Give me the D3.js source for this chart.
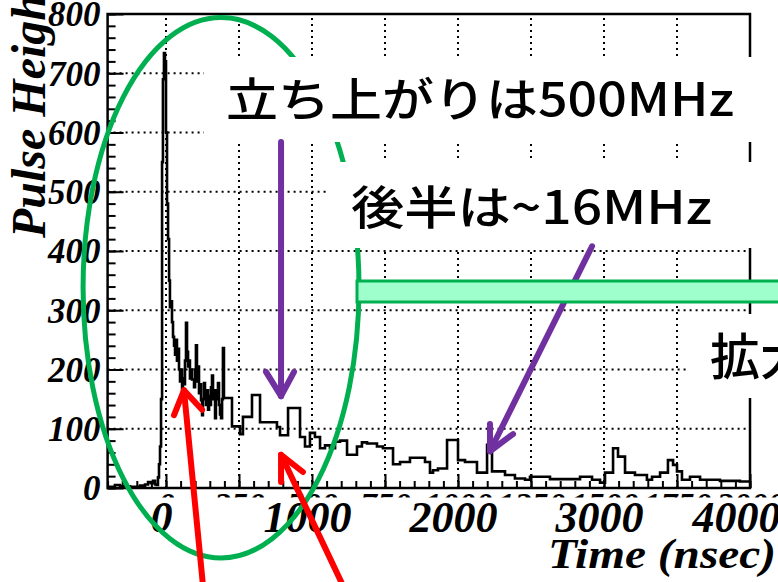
<!DOCTYPE html>
<html>
<head>
<meta charset="utf-8">
<script src="https://cdn.jsdelivr.net/npm/d3@7"></script>
<style>
  html, body { margin: 0; padding: 0; background: #fff; }
  svg { display: block; }
</style>
</head>
<body>
<svg width="778" height="582"></svg>
<script>
///////////////////////////////////////////////////////
// DATA (time in nsec on the big axis, pulse height)
///////////////////////////////////////////////////////
const timeNs = [
  -400, -350, -315, -247, -178, -144, -123, -103, -89, -75,
  -62, -55, -48, -41, -34, -27, -21, -14, -7, 0,
  7, 14, 21, 27, 34, 41, 48, 55, 62, 68,
  75, 82, 89, 96, 103, 110, 116, 123, 130, 137,
  144, 151, 158, 164, 171, 178, 185, 192, 199, 205,
  212, 219, 226, 233, 240, 247, 253, 260, 267, 274,
  281, 288, 295, 301, 308, 315, 322, 329, 336, 342,
  349, 356, 363, 370, 377, 384, 390, 397, 452, 507,
  527, 589, 644, 760, 781, 836, 918, 952, 986, 1020,
  1055, 1089, 1123, 1158, 1192, 1240, 1308, 1342, 1377, 1445,
  1486, 1555, 1603, 1671, 1774, 1808, 1829, 1863, 1925, 2000,
  2048, 2130, 2199, 2233, 2322, 2390, 2459, 2493, 2630, 2836,
  2918, 2973, 3007, 3062, 3096, 3144, 3212, 3294, 3329, 3384,
  3438, 3473, 3500, 3534, 3589, 3658, 3794, 3931
];
const pulseHeight = [
  2, 5, 3, 2, 4, 6, 10, 8, 12, 6,
  5, 18, 40, 70, 150, 550, 690, 734, 720, 600,
  480, 420, 350, 305, 315, 280, 255, 240, 225, 250,
  215, 235, 200, 180, 200, 165, 185, 175, 215, 279,
  230, 205, 215, 185, 200, 183, 183, 170, 200, 241,
  180, 205, 160, 175, 148, 123, 150, 177, 150, 140,
  165, 132, 155, 140, 170, 190, 150, 165, 118, 150,
  165, 177, 140, 124, 118, 150, 236, 152, 104, 91,
  120, 157, 111, 103, 89, 135, 86, 70, 93, 86,
  67, 72, 67, 78, 80, 56, 70, 77, 75, 70,
  67, 40, 44, 51, 44, 26, 30, 33, 81, 47,
  44, 26, 73, 28, 22, 16, 14, 19, 15, 19,
  14, 9, 26, 67, 53, 26, 22, 14, 19, 26,
  47, 39, 28, 14, 19, 14, 12, 11
];
const timeMax = 4000;

// tick values
const yMajor = [0, 100, 200, 300, 400, 500, 600, 700, 800];
const yMinor = d3.range(0, 801, 20);
const outerTicks = [0, 1000, 2000, 3000, 4000];
const innerLabels = [0, 250, 500, 750, 1000, 1250, 1500, 1750, 2000]; // old axis, half scale
const xMinor = d3.range(-400, 4001, 100);

// annotations (data coordinates)
const purpleArrows = [
  { tail: [788, 584], tip: [788, 155], wings: [[685, 196], [877, 196]] },
  { tail: [2918, 408], tip: [2219, 62], wings: [[2219, 108], [2377, 91]] }
];
const redArrows = [
  { tail: [253, -164], tip: [123, 165], wings: [[55, 123], [247, 132]] },
  { tail: [1226, -172], tip: [788, 56], wings: [[788, 10], [938, 27]] }
];
const ring = { t: 377, v: 338, dt: 945, dv: 456 };

// call-out boxes (page layout)
const callouts = [
  { text: "立ち上がりは500MHz", x: 204, y: 57, w: 580, h: 85, tx: 226, ty: 116, size: 46, len: 508 },
  { text: "後半は~16MHz", x: 327, y: 162, w: 460, h: 86, tx: 351, ty: 224, size: 46, len: 361 },
  { text: "拡大", x: 688, y: 314, w: 100, h: 84, tx: 710, ty: 375, size: 50, len: null }
];

///////////////////////////////////////////////////////
// SETUP
///////////////////////////////////////////////////////
const frame = { left: 107.6, right: 750, top: 14, bottom: 488 };
const serif = "'Liberation Serif', 'Times New Roman', serif";
const jp = "'Noto Sans CJK JP', sans-serif";

const x = d3.scaleLinear().domain([-400, timeMax]).range([frame.left, frame.right]);
const y = d3.scaleLinear().domain([0, 800]).range([frame.bottom, frame.top]);

const svg = d3.select("svg");

function serifText(sel, size) {
  sel.attr("font-family", serif)
    .attr("font-weight", "bold")
    .attr("font-style", "italic")
    .attr("font-size", size)
    .attr("fill", "#000");
}

// grid (dotted)
const grid = svg.append("g")
  .attr("stroke", "#000")
  .attr("stroke-width", 2)
  .attr("stroke-dasharray", "2,4");
grid.selectAll(".vg")
  .data(innerLabels.slice(0, -1))
  .join("line")
  .attr("x1", d => x(d * 2)).attr("x2", d => x(d * 2))
  .attr("y1", frame.bottom).attr("y2", frame.top);
grid.selectAll(".hg")
  .data(yMajor.slice(1, -1))
  .join("line")
  .attr("x1", frame.left).attr("x2", frame.right)
  .attr("y1", d => y(d)).attr("y2", d => y(d));

// histogram
const pts = timeNs.map((t, i) => [t, pulseHeight[i]]);
pts.push([timeMax, pulseHeight[pulseHeight.length - 1]]);
const line = d3.line()
  .x(d => x(d[0]))
  .y(d => y(d[1]))
  .curve(d3.curveStepAfter);
svg.append("path")
  .attr("d", line(pts))
  .attr("fill", "none")
  .attr("stroke", "#000")
  .attr("stroke-width", 2.6)
  .attr("stroke-linejoin", "miter");

// y axis: minor + major ticks inside
svg.append("g")
  .attr("transform", "translate(" + frame.left + ",0)")
  .call(d3.axisLeft(y).tickValues(yMinor).tickSize(-8).tickFormat(""))
  .call(g => g.select(".domain").remove())
  .selectAll("line").attr("stroke-width", 2);
const yAxisG = svg.append("g")
  .attr("transform", "translate(" + frame.left + ",0)")
  .call(d3.axisLeft(y).tickValues(yMajor).tickSize(-16).tickPadding(7))
  .call(g => g.select(".domain").remove());
yAxisG.selectAll("line").attr("stroke-width", 2);
yAxisG.selectAll("text")
  .call(serifText, 35)
  .attr("dy", "0.34em");

// x axis: minor ticks, old (half-scale) labels
svg.append("g")
  .attr("transform", "translate(0," + frame.bottom + ")")
  .call(d3.axisBottom(x).tickValues(xMinor).tickSize(-7).tickFormat(""))
  .call(g => g.select(".domain").remove())
  .selectAll("line").attr("stroke-width", 2);
const innerG = svg.append("g")
  .attr("transform", "translate(0," + frame.bottom + ")")
  .call(d3.axisBottom(x).tickValues(innerLabels.map(d => d * 2)).tickSize(-14).tickPadding(4)
    .tickFormat(d => d / 2))
  .call(g => g.select(".domain").remove());
innerG.selectAll("line").attr("stroke-width", 2);
innerG.selectAll("text").call(serifText, 34);

// frame
svg.append("rect")
  .attr("x", frame.left).attr("y", frame.top)
  .attr("width", frame.right - frame.left)
  .attr("height", frame.bottom - frame.top)
  .attr("fill", "none")
  .attr("stroke", "#000")
  .attr("stroke-width", 2.5);

// y title
svg.append("text")
  .attr("transform", "translate(45,238) rotate(-90)")
  .call(serifText, 48)
  .text("Pulse Height");

// white patch hiding the old labels
svg.append("rect")
  .attr("x", 104).attr("y", 497.5)
  .attr("width", 680).attr("height", 90)
  .attr("fill", "#fff");

// new x labels
const outerG = svg.append("g")
  .attr("transform", "translate(0," + frame.bottom + ")")
  .call(d3.axisBottom(x).tickValues(outerTicks).tickSize(0).tickFormat(d3.format("d")))
  .call(g => g.select(".domain").remove());
outerG.selectAll("text")
  .call(serifText, 44)
  .attr("dy", null)
  .attr("y", 44)
  .attr("dx", d => d === 4000 ? -14 : -5);

svg.append("text")
  .attr("x", 776).attr("y", 568)
  .attr("text-anchor", "end")
  .attr("textLength", 228)
  .attr("lengthAdjust", "spacingAndGlyphs")
  .call(serifText, 42)
  .text("Time (nsec)");

///////////////////////////////////////////////////////
// ANNOTATIONS
///////////////////////////////////////////////////////
svg.append("ellipse")
  .attr("cx", x(ring.t)).attr("cy", y(ring.v))
  .attr("rx", x(ring.t + ring.dt) - x(ring.t))
  .attr("ry", y(ring.v - ring.dv) - y(ring.v))
  .attr("fill", "none")
  .attr("stroke", "#00b050")
  .attr("stroke-width", 5);

const boxes = svg.append("g");
callouts.forEach(c => {
  boxes.append("rect")
    .attr("x", c.x).attr("y", c.y)
    .attr("width", c.w).attr("height", c.h)
    .attr("fill", "#fff");
  const t = boxes.append("text")
    .attr("x", c.tx).attr("y", c.ty)
    .attr("font-family", jp)
    .attr("font-weight", 500)
    .attr("font-size", c.size)
    .attr("fill", "#000")
    .text(c.text);
  if (c.len) t.attr("textLength", c.len).attr("lengthAdjust", "spacingAndGlyphs");
});

function drawArrows(list, color, width) {
  const g = svg.append("g")
    .attr("stroke", color)
    .attr("stroke-width", width)
    .attr("stroke-linecap", "round")
    .attr("stroke-linejoin", "round")
    .attr("fill", "none");
  list.forEach(a => {
    g.append("line")
      .attr("x1", x(a.tail[0])).attr("y1", y(a.tail[1]))
      .attr("x2", x(a.tip[0])).attr("y2", y(a.tip[1]));
    g.append("path")
      .attr("d", d3.line()([
        [x(a.wings[0][0]), y(a.wings[0][1])],
        [x(a.tip[0]), y(a.tip[1])],
        [x(a.wings[1][0]), y(a.wings[1][1])]
      ]));
  });
}
drawArrows(purpleArrows, "#7030a0", 6);

// green bar
svg.append("rect")
  .attr("x", 357).attr("y", 281)
  .attr("width", 440).attr("height", 21)
  .attr("fill", "#9effcc")
  .attr("stroke", "#00b050")
  .attr("stroke-width", 3);

drawArrows(redArrows, "#ff0000", 6);
</script>
</body>
</html>
